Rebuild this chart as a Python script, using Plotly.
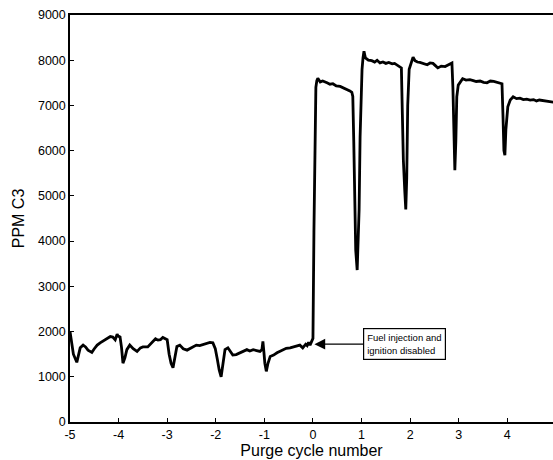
import plotly.graph_objects as go

# Pre-purge (fuel on) segment
x_before = [-5.00, -4.97, -4.93, -4.86, -4.79, -4.73, -4.68, -4.63, -4.55, -4.50,
            -4.44, -4.38, -4.32, -4.27, -4.22, -4.17, -4.12, -4.07, -4.03, -4.01,
            -3.97, -3.94, -3.91, -3.87, -3.83, -3.77, -3.70, -3.62, -3.55, -3.50,
            -3.40, -3.35, -3.29, -3.24, -3.19, -3.14, -3.09, -3.05, -3.00, -2.96,
            -2.92, -2.88, -2.84, -2.80, -2.74, -2.67, -2.59, -2.53, -2.47, -2.40,
            -2.33, -2.25, -2.18, -2.12, -2.06, -2.01, -1.97, -1.93, -1.89, -1.85,
            -1.81, -1.75, -1.70, -1.65, -1.58, -1.50, -1.43, -1.36, -1.30, -1.23,
            -1.16, -1.09, -1.05, -1.03, -1.01, -0.99, -0.96, -0.93, -0.88, -0.81,
            -0.74, -0.68, -0.62, -0.55, -0.47, -0.40, -0.33, -0.27, -0.21, -0.15,
            -0.12, -0.09, -0.06, -0.03]
ppm_before = [2000, 1750, 1500, 1320, 1640, 1700, 1660, 1590, 1540, 1620,
              1700, 1750, 1790, 1830, 1860, 1890, 1880, 1820, 1940, 1900,
              1880, 1650, 1300, 1420, 1600, 1700, 1620, 1560, 1640, 1660,
              1660, 1720, 1780, 1840, 1810, 1820, 1870, 1840, 1820, 1500,
              1300, 1200, 1450, 1670, 1700, 1620, 1590, 1630, 1660, 1700,
              1690, 1720, 1740, 1760, 1750, 1620, 1400, 1150, 1000, 1350,
              1600, 1640, 1550, 1480, 1490, 1530, 1550, 1600, 1570, 1600,
              1580, 1560, 1600, 1780, 1550, 1300, 1120, 1280, 1450, 1480,
              1530, 1560, 1590, 1630, 1640, 1660, 1680, 1700, 1640, 1720,
              1690, 1760, 1700, 1760]

# Post-disable (purge cycles) segment
x_after = [0.00, 0.02, 0.04, 0.06, 0.08, 0.10, 0.15, 0.20, 0.29, 0.35,
           0.41, 0.48, 0.56, 0.63, 0.70, 0.76, 0.80, 0.82, 0.84, 0.86,
           0.88, 0.91, 0.93, 0.95, 0.97, 0.99, 1.01, 1.03, 1.05, 1.08,
           1.14, 1.21, 1.27, 1.32, 1.38, 1.44, 1.50, 1.56, 1.63, 1.68,
           1.73, 1.79, 1.82, 1.84, 1.86, 1.89, 1.91, 1.93, 1.95, 1.98,
           2.02, 2.06, 2.10, 2.15, 2.20, 2.28, 2.35, 2.41, 2.47, 2.52,
           2.57, 2.64, 2.72, 2.79, 2.86, 2.88, 2.90, 2.92, 2.94, 2.96,
           2.99, 3.02, 3.08, 3.15, 3.23, 3.30, 3.36, 3.44, 3.51, 3.58,
           3.65, 3.72, 3.79, 3.85, 3.89, 3.91, 3.93, 3.95, 3.97, 4.01,
           4.06, 4.12, 4.19, 4.26, 4.33, 4.40, 4.47, 4.54, 4.60, 4.66,
           4.73, 4.80, 4.88, 4.95]
ppm_after = [1850, 4200, 6600, 7400, 7550, 7600, 7520, 7540, 7500, 7470,
             7480, 7430, 7420, 7390, 7350, 7320, 7290, 7200, 6200, 4500,
             3800, 3360, 3900, 4700, 6300, 7400, 7800, 8050, 8200, 8050,
             8000, 7990, 7960, 8000, 7940, 7960, 7930, 7950, 7920, 7930,
             7900, 7860, 7830, 6800, 5800, 5100, 4700, 5400, 7000, 7800,
             7950, 8070, 7990, 7960, 7950, 7920, 7900, 7940, 7930, 7880,
             7830, 7870, 7860, 7900, 7940, 7400, 6200, 5570, 6200, 7190,
             7450, 7500, 7590, 7560, 7570, 7550, 7530, 7540, 7510, 7500,
             7540, 7530, 7510, 7500, 7480, 6800, 6000, 5900, 6460, 6970,
             7120, 7190, 7150, 7160, 7130, 7140, 7120, 7130, 7100, 7120,
             7110, 7090, 7080, 7070]

x_ticks = [-5, -4, -3, -2, -1, 0, 1, 2, 3, 4]
y_ticks = [0, 1000, 2000, 3000, 4000, 5000, 6000, 7000, 8000, 9000]

annot_text = "Fuel injection and<br>ignition disabled"
annot_point = (0.03, 1720)
annot_box = (1.89, 1725)

x_all = x_before + x_after
y_all = ppm_before + ppm_after

fig = go.Figure()
fig.add_trace(go.Scatter(x=x_all, y=y_all, mode="lines",
                         line=dict(color="black", width=2.8),
                         showlegend=False, hoverinfo="skip"))

fig.add_annotation(x=annot_point[0], y=annot_point[1],
                   ax=annot_box[0], ay=annot_box[1], axref="x", ayref="y",
                   text=annot_text, showarrow=True, arrowhead=2, arrowsize=1.8,
                   arrowwidth=1.2, arrowcolor="black", align="left",
                   font=dict(family="Liberation Sans, Arial", size=9.5, color="black"),
                   bordercolor="black", borderwidth=1.2, borderpad=3, bgcolor="white")

font = dict(family="Liberation Sans, Arial", color="black")
fig.update_layout(
    width=553, height=460,
    margin=dict(l=70, r=0, t=15, b=38),
    paper_bgcolor="white", plot_bgcolor="white",
    font=font,
    xaxis=dict(range=[-5, 4.94], tickvals=x_ticks, ticktext=[str(t) for t in x_ticks],
               ticks="inside", ticklen=4, tickcolor="black", showgrid=False, zeroline=False,
               showline=True, linecolor="black", linewidth=2, mirror=True,
               tickfont=dict(size=12.5, **font),
               title=dict(text="Purge cycle number", font=dict(size=16, **font), standoff=1)),
    yaxis=dict(range=[0, 9000], tickvals=y_ticks, ticktext=[str(t) for t in y_ticks],
               ticks="inside", ticklen=4, tickcolor="black", showgrid=False, zeroline=False,
               showline=True, linecolor="black", linewidth=1.5,
               tickfont=dict(size=12.5, **font),
               title=dict(text="PPM C3", font=dict(size=16, **font), standoff=9)),
)

fig.write_html("out.html")
